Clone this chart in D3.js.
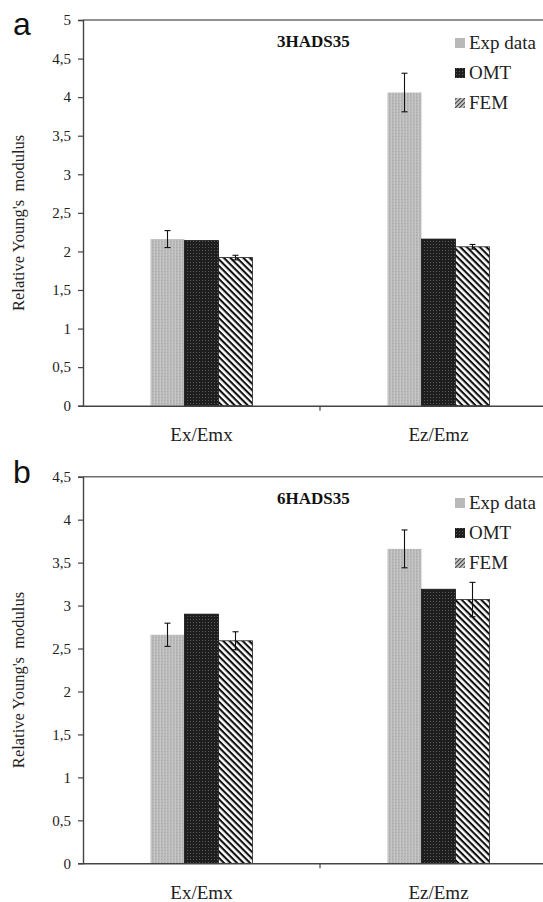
<!DOCTYPE html>
<html>
<head>
<meta charset="utf-8">
<script src="https://cdn.jsdelivr.net/npm/d3@7"></script>
<style>
  html, body { margin: 0; padding: 0; background: #fff; }
  svg { display: block; }
  .serif, .serif text { font-family: "Liberation Serif", "Times New Roman", serif; }
  .serif text.letter { font-family: "Liberation Sans", Arial, sans-serif; }
</style>
</head>
<body>
<div id="chart"></div>
<script>
// Relative Young's modulus, experiment vs. OMT vs. FEM, for two laminates
const categories = ["Ex/Emx", "Ez/Emz"];
const seriesNames = ["Exp data", "OMT", "FEM"];

// panel a: 3HADS35
const valuesA = {
  "Exp data": [2.16, 4.06],
  "OMT":      [2.14, 2.16],
  "FEM":      [1.92, 2.06]
};
const errorsA = {
  "Exp data": [0.11, 0.25],
  "OMT":      [0, 0],
  "FEM":      [0.03, 0.03]
};
const ticksA = [0, 0.5, 1, 1.5, 2, 2.5, 3, 3.5, 4, 4.5, 5];

// panel b: 6HADS35
const valuesB = {
  "Exp data": [2.66, 3.66],
  "OMT":      [2.90, 3.19],
  "FEM":      [2.59, 3.07]
};
const errorsB = {
  "Exp data": [0.135, 0.22],
  "OMT":      [0, 0],
  "FEM":      [0.105, 0.20]
};
const ticksB = [0, 0.5, 1, 1.5, 2, 2.5, 3, 3.5, 4, 4.5];

const W = 543, H = 902;
const svg = d3.select("#chart").append("svg")
  .attr("width", W).attr("height", H);

// fill textures for the three series
const defs = svg.append("defs");
const pExp = defs.append("pattern").attr("id", "pat-exp")
  .attr("patternUnits", "userSpaceOnUse").attr("width", 3).attr("height", 3);
pExp.append("rect").attr("width", 3).attr("height", 3).attr("fill", "#b9b9b9");
pExp.append("rect").attr("x", 1).attr("width", 1).attr("height", 3).attr("fill", "#c6c6c6");
pExp.append("rect").attr("x", 2).attr("y", 1).attr("width", 1).attr("height", 1).attr("fill", "#a9a9a9");

const pOmt = defs.append("pattern").attr("id", "pat-omt")
  .attr("patternUnits", "userSpaceOnUse").attr("width", 3).attr("height", 3);
pOmt.append("rect").attr("width", 3).attr("height", 3).attr("fill", "#1e1e1e");
pOmt.append("rect").attr("x", 1).attr("y", 1).attr("width", 1).attr("height", 1).attr("fill", "#5a5a5a");

const pFem = defs.append("pattern").attr("id", "pat-fem")
  .attr("patternUnits", "userSpaceOnUse").attr("width", 4.6).attr("height", 4.6)
  .attr("patternTransform", "rotate(45)");
pFem.append("rect").attr("width", 4.6).attr("height", 4.6).attr("fill", "#fff");
pFem.append("rect").attr("width", 4.6).attr("height", 2.1).attr("fill", "#111");

const pFemKey = defs.append("pattern").attr("id", "pat-fem-key")
  .attr("patternUnits", "userSpaceOnUse").attr("width", 3).attr("height", 3)
  .attr("patternTransform", "rotate(-45)");
pFemKey.append("rect").attr("width", 3).attr("height", 3).attr("fill", "#d0d0d0");
pFemKey.append("rect").attr("width", 3).attr("height", 1.2).attr("fill", "#444");

const fills = { "Exp data": "url(#pat-exp)", "OMT": "url(#pat-omt)", "FEM": "url(#pat-fem)" };
const keyFills = { "Exp data": "#b9b9b9", "OMT": "url(#pat-omt)", "FEM": "url(#pat-fem-key)" };
const strokes = { "Exp data": "none", "OMT": "#111", "FEM": "#222" };

function panel(cfg) {
  const g = svg.append("g").attr("class", "serif");
  const x0 = 83, x1 = 557;
  const y = d3.scaleLinear().domain([0, cfg.max]).range([cfg.bottom, cfg.top]);
  const x = d3.scaleBand().domain(categories).range([x0, x1]).padding(0);
  const xs = d3.scaleBand().domain(seriesNames).range([0, 102]).padding(0);

  // top frame line
  g.append("line")
    .attr("x1", x0).attr("x2", x1)
    .attr("y1", y(cfg.max)).attr("y2", y(cfg.max))
    .attr("stroke", "#6e6e6e").attr("stroke-width", 1.4);

  // bars
  seriesNames.forEach(s => {
    categories.forEach((c, i) => {
      const bx = x(c) + x.bandwidth() / 2 - 51 + xs(s);
      const v = cfg.values[s][i];
      g.append("rect")
        .attr("x", bx).attr("y", y(v))
        .attr("width", xs.bandwidth()).attr("height", y(0) - y(v))
        .attr("fill", fills[s])
        .attr("stroke", strokes[s]).attr("stroke-width", 0.8);
    });
  });

  // error bars
  seriesNames.forEach(s => {
    categories.forEach((c, i) => {
      const e = cfg.errors[s][i];
      if (!e) return;
      const cx = x(c) + x.bandwidth() / 2 - 51 + xs(s) + xs.bandwidth() / 2;
      const v = cfg.values[s][i];
      const eg = g.append("g").attr("stroke", "#111").attr("stroke-width", 1.1);
      eg.append("line").attr("x1", cx).attr("x2", cx).attr("y1", y(v + e)).attr("y2", y(v - e));
      eg.append("line").attr("x1", cx - 3).attr("x2", cx + 3).attr("y1", y(v + e)).attr("y2", y(v + e));
      eg.append("line").attr("x1", cx - 3).attr("x2", cx + 3).attr("y1", y(v - e)).attr("y2", y(v - e));
    });
  });

  // y axis
  const fmt = d => String(d).replace(".", ",");
  const ya = g.append("g").attr("transform", `translate(${x0},0)`)
    .call(d3.axisLeft(y).tickValues(cfg.ticks).tickFormat(fmt).tickSize(5).tickPadding(7));
  ya.attr("font-family", null);
  ya.select(".domain").attr("stroke", "#444").attr("stroke-width", 1.4);
  ya.selectAll(".tick line").attr("stroke", "#444").attr("stroke-width", 1.2);
  ya.selectAll("text").attr("font-size", 15).attr("fill", "#222");

  // x axis with category divider ticks
  const xa = g.append("g").attr("transform", `translate(0,${y(0)})`)
    .call(d3.axisBottom(x).tickSize(0).tickPadding(22));
  xa.attr("font-family", null);
  xa.select(".domain").attr("stroke", "#444").attr("stroke-width", 1.4);
  xa.selectAll("text").attr("font-size", 19).attr("fill", "#222");
  xa.selectAll(".divider").data(categories.slice(1)).enter().append("line")
    .attr("class", "divider")
    .attr("x1", d => x(d)).attr("x2", d => x(d))
    .attr("y1", 0).attr("y2", 5)
    .attr("stroke", "#444").attr("stroke-width", 1.2);

  // y axis title
  g.append("text")
    .attr("transform", `translate(24,${(cfg.top + cfg.bottom) / 2 + 10}) rotate(-90)`)
    .attr("text-anchor", "middle")
    .attr("font-size", 16.5).attr("fill", "#222")
    .style("white-space", "pre")
    .text("Relative Young's  modulus");

  // panel letter
  g.append("text")
    .attr("class", "letter")
    .attr("x", 13).attr("y", cfg.top + cfg.letterDy)
    .attr("font-size", 32)
    .attr("fill", "#111")
    .text(cfg.letter);

  // specimen title
  g.append("text")
    .attr("x", 277).attr("y", cfg.top + 27)
    .attr("font-size", 17).attr("font-weight", "bold")
    .attr("fill", "#111")
    .text(cfg.title);

  // legend
  const lg = g.append("g").attr("transform", `translate(455,${cfg.legendTop})`);
  seriesNames.forEach((s, i) => {
    const row = lg.append("g").attr("transform", `translate(0,${i * 30})`);
    row.append("rect").attr("x", 0).attr("y", -5).attr("width", 10).attr("height", 10)
      .attr("fill", keyFills[s]);
    row.append("text").attr("x", 14).attr("y", 6)
      .attr("font-size", 19).attr("fill", "#222")
      .text(s);
  });
}

panel({ letter: "a", title: "3HADS35", top: 20, bottom: 405.7, max: 5, letterDy: 15,
        ticks: ticksA, values: valuesA, errors: errorsA, legendTop: 43 });
panel({ letter: "b", title: "6HADS35", top: 476.7, bottom: 863.3, max: 4.5, letterDy: 6,
        ticks: ticksB, values: valuesB, errors: errorsB, legendTop: 503 });
</script>
</body>
</html>
